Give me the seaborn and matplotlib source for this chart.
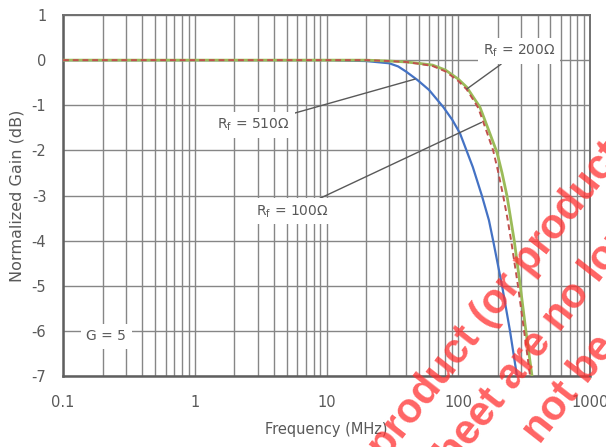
"""Normalized gain vs frequency, G = 5, three feedback resistors."""

import matplotlib

matplotlib.use("Agg")
import matplotlib.pyplot as plt
import numpy as np
import pandas as pd
import seaborn as sns

# --- data ---
freq_510 = [0.1, 1, 10, 20, 30, 35, 40, 49, 60, 77, 90, 103, 129, 151, 171, 184, 215, 247, 279]
gain_510 = [0, 0, 0, -0.02, -0.07, -0.14, -0.25, -0.44, -0.66, -1.04, -1.32, -1.62, -2.37, -3.0, -3.55, -4.0, -5.0, -6.0, -7.0]

freq_200 = [0.1, 1, 10, 20, 30, 40, 50, 64, 80, 100, 116, 130, 146, 170, 197, 215, 234, 248, 266, 294, 326, 363]
gain_200 = [0, 0, 0, 0, -0.02, -0.04, -0.07, -0.11, -0.22, -0.42, -0.6, -0.82, -1.04, -1.55, -2.05, -2.5, -3.0, -3.45, -4.0, -4.95, -6.0, -7.0]

freq_100 = [0.1, 1, 10, 20, 30, 40, 50, 64, 80, 100, 116, 130, 142, 165, 184, 200, 219, 236, 252, 284, 316, 351]
gain_100 = [0, 0, 0, 0, -0.02, -0.04, -0.08, -0.13, -0.25, -0.46, -0.65, -0.88, -1.06, -1.6, -2.0, -2.45, -3.0, -3.5, -4.0, -5.0, -6.0, -7.0]

y_ticks = [1, 0, -1, -2, -3, -4, -5, -6, -7]
x_ticks = [0.1, 1, 10, 100, 1000]
x_tick_labels = ["0.1", "1", "10", "100", "1000"]

TEXT = "#595959"
GRID = "#868686"

sns.set_theme(style="white")
plt.rcParams["font.family"] = ["DejaVu Sans"]
plt.rcParams["mathtext.fontset"] = "dejavusans"

fig = plt.figure(figsize=(6.06, 4.47), dpi=100)
ax = fig.add_axes([0.104, 0.1588, 0.8696, 0.8076])

df510 = pd.DataFrame({"f": freq_510, "g": gain_510})
df200 = pd.DataFrame({"f": freq_200, "g": gain_200})
df100 = pd.DataFrame({"f": freq_100, "g": gain_100})

ax.set_xscale("log")
sns.lineplot(data=df510, x="f", y="g", ax=ax, color="#4472C4", lw=1.6, zorder=3)
sns.lineplot(data=df200, x="f", y="g", ax=ax, color="#9BBB59", lw=2.0, zorder=3)
sns.lineplot(data=df100, x="f", y="g", ax=ax, color="#C0504D", lw=1.4,
             linestyle=(0, (3, 2)), zorder=4)

ax.set_xlim(0.1, 1000)
ax.set_ylim(-7, 1)
ax.set_xticks(x_ticks)
ax.set_xticklabels(x_tick_labels)
ax.set_yticks(y_ticks)
ax.set_yticklabels([str(v) for v in y_ticks])
ax.xaxis.set_minor_locator(matplotlib.ticker.LogLocator(base=10, subs=np.arange(2, 10)))
ax.xaxis.set_minor_formatter(matplotlib.ticker.NullFormatter())
ax.grid(True, which="both", axis="x", color=GRID, lw=1.0)
ax.grid(True, which="major", axis="y", color=GRID, lw=1.0)
ax.set_axisbelow(True)
ax.tick_params(axis="both", which="both", length=0, colors=TEXT, labelsize=10.5)
ax.tick_params(axis="x", pad=14)
ax.tick_params(axis="y", pad=12)
for side, sp in ax.spines.items():
    sp.set_color("#5f5f5f" if side in ("left", "bottom") else "#707070")
    sp.set_linewidth(1.8 if side in ("left", "bottom") else 1.4)

ax.set_xlabel("Frequency (MHz)", color=TEXT, fontsize=10.5, labelpad=8)
ax.set_ylabel("Normalized Gain (dB)", color=TEXT, fontsize=11.5, labelpad=5)

box = dict(boxstyle="square,pad=0.35", fc="white", ec="none")
arrow = dict(arrowstyle="-", color=TEXT, lw=1.0, shrinkA=0, shrinkB=0)
ax.annotate(r"R$_\mathrm{f}$ = 510Ω", xy=(47, -0.42), xytext=(2.8, -1.43),
            ha="center", va="center", color=TEXT, fontsize=10, bbox=box,
            arrowprops=arrow, zorder=5)
ax.annotate(r"R$_\mathrm{f}$ = 200Ω", xy=(116, -0.64), xytext=(290, 0.2),
            ha="center", va="center", color=TEXT, fontsize=10, bbox=box,
            arrowprops=arrow, zorder=5)
ax.annotate(r"R$_\mathrm{f}$ = 100Ω", xy=(150, -1.38), xytext=(5.5, -3.35),
            ha="center", va="center", color=TEXT, fontsize=10, bbox=box,
            arrowprops=arrow, zorder=5)
ax.text(0.212, -6.12, "G = 5", ha="center", va="center", color=TEXT, fontsize=10,
        bbox=dict(boxstyle="square,pad=0.4", fc="white", ec="none"), zorder=5)

# watermark, partly off the page
W, H = 606, 447
wm = dict(color="#ff3030", alpha=0.75, fontsize=30, fontweight="bold",
          family=["Liberation Sans", "DejaVu Sans"], rotation=52,
          rotation_mode="anchor", ha="left", va="baseline", zorder=10)
fig.text(386 / W, 1 - 460 / H, "product (or products)", **wm)
fig.text(440 / W, 1 - 486 / H, "sheet are no longer", **wm)
fig.text(540 / W, 1 - 445 / H, "not be used", **wm)

fig.savefig("out.png", dpi=100)
